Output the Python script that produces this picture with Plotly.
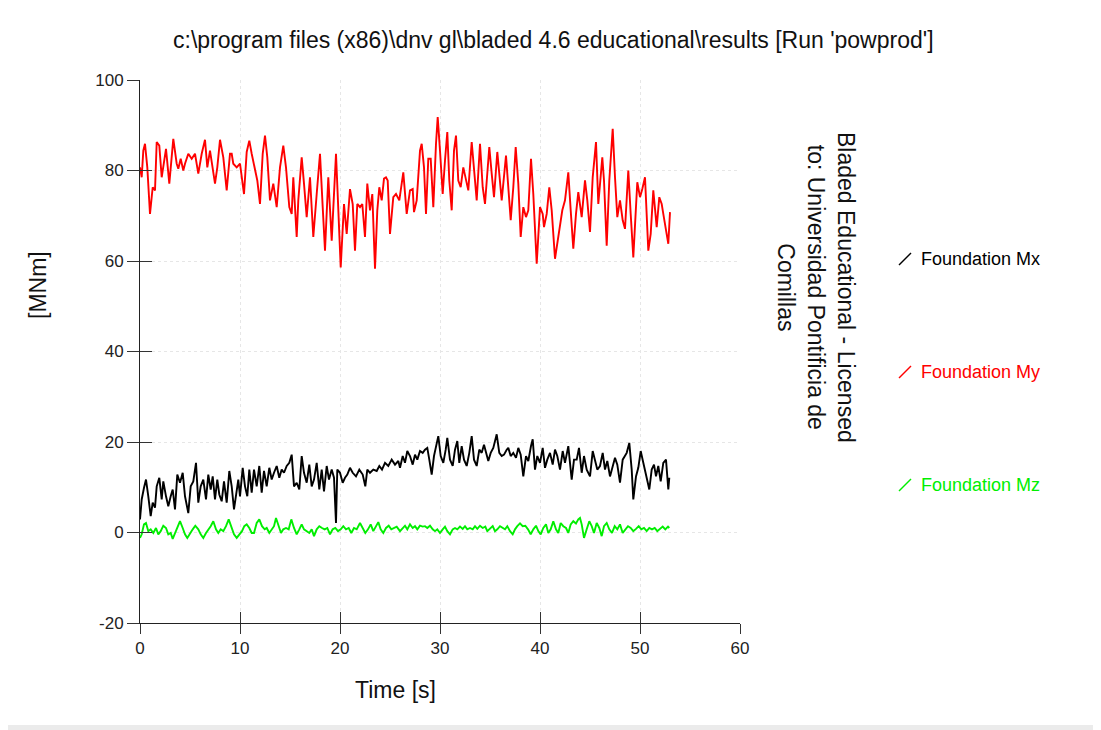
import plotly.graph_objects as go

# ---------------- data ----------------
t_my = [0, 0.17, 0.33, 0.5, 0.73, 1.0, 1.27, 1.5, 1.67, 1.93,
        2.17, 2.33, 2.6, 2.93, 3.33, 3.67, 3.83, 4.07, 4.33, 4.5,
        4.83, 5.17, 5.5, 5.83, 6.17, 6.5, 6.73, 7.0, 7.27, 7.5,
        7.73, 8.0, 8.33, 8.67, 9.0, 9.17, 9.33, 9.67, 10.0, 10.17,
        10.4, 10.67, 10.93, 11.17, 11.5, 11.73, 12.0, 12.27, 12.5, 12.73,
        13.0, 13.33, 13.67, 14.0, 14.33, 14.6, 14.93, 15.17, 15.33, 15.67,
        15.83, 16.17, 16.4, 16.67, 17.0, 17.33, 17.67, 18.0, 18.27, 18.5,
        18.83, 19.17, 19.6, 19.83, 20.07, 20.4, 20.67, 21.0, 21.27, 21.5,
        21.73, 22.0, 22.23, 22.5, 22.73, 23.0, 23.23, 23.5, 23.73, 23.93,
        24.17, 24.4, 24.6, 24.77, 25.0, 25.33, 25.6, 25.93, 26.33, 26.67,
        27.0, 27.27, 27.4, 27.67, 28.0, 28.17, 28.4, 28.6, 28.83, 29.07,
        29.33, 29.6, 29.77, 30.0, 30.27, 30.5, 30.73, 30.93, 31.17, 31.4,
        31.6, 31.83, 32.07, 32.33, 32.57, 32.83, 33.17, 33.4, 33.67, 34.0,
        34.27, 34.5, 34.93, 35.17, 35.4, 35.73, 36.0, 36.17, 36.6, 36.83,
        37.07, 37.33, 37.57, 37.83, 38.07, 38.33, 38.6, 38.83, 39.1, 39.33,
        39.67, 40.0, 40.27, 40.4, 40.67, 40.93, 41.17, 41.5, 41.77, 42.0,
        42.23, 42.5, 42.83, 43.07, 43.33, 43.6, 43.83, 44.17, 44.5, 44.73,
        45.0, 45.27, 45.6, 45.83, 46.0, 46.23, 46.4, 46.67, 46.93, 47.27,
        47.5, 47.73, 48.0, 48.27, 48.5, 48.83, 49.07, 49.33, 49.73, 50.0,
        50.23, 50.5, 50.83, 51.07, 51.33, 51.67, 51.93, 52.17, 52.33, 52.6,
        52.83, 53.0]
my = [80.7, 78.5, 84.4, 85.9, 80.7, 70.4, 76.3, 75.6, 86.3, 85.5,
      78.5, 80.7, 84.8, 77.1, 87.0, 81.5, 80.4, 82.6, 80.0, 81.5,
      83.7, 82.6, 83.7, 79.3, 83.7, 86.8, 80.7, 84.4, 80.7, 77.1,
      80.7, 86.8, 82.9, 75.6, 83.7, 83.7, 81.5, 80.7, 81.5, 78.9,
      74.8, 84.1, 86.6, 83.7, 80.0, 77.8, 72.6, 83.7, 87.7, 82.9,
      73.4, 77.1, 71.9, 80.7, 85.5, 80.7, 71.9, 70.4, 78.5, 65.3,
      73.4, 82.9, 77.1, 69.7, 78.5, 65.3, 74.8, 83.7, 71.9, 62.3,
      78.5, 64.5, 83.7, 72.6, 58.6, 72.6, 66.0, 75.9, 72.6, 62.3,
      72.6, 71.9, 72.6, 65.3, 77.1, 71.2, 74.8, 58.3, 71.2, 76.3,
      73.4, 78.2, 78.5, 77.8, 66.0, 74.1, 74.8, 73.4, 79.6, 70.4,
      75.6, 75.9, 70.8, 73.4, 84.4, 85.9, 80.7, 70.4, 82.6, 82.6,
      71.9, 85.9, 91.8, 84.4, 74.8, 82.2, 88.5, 77.8, 71.2, 84.4,
      87.7, 77.8, 76.3, 80.7, 78.5, 75.6, 86.3, 80.7, 73.4, 85.9,
      76.3, 72.6, 85.2, 79.3, 74.1, 84.1, 76.3, 73.4, 83.3, 77.1,
      69.0, 76.3, 85.2, 77.1, 65.3, 71.9, 69.7, 71.2, 82.6, 74.8,
      59.4, 71.9, 70.4, 67.5, 70.4, 76.3, 71.2, 60.5, 64.5, 67.8,
      71.2, 73.4, 79.6, 71.2, 62.7, 70.4, 75.2, 69.7, 77.8, 73.4,
      66.4, 78.5, 86.3, 72.6, 76.3, 82.9, 77.8, 63.4, 77.8, 89.2,
      78.5, 69.7, 73.4, 69.0, 67.1, 80.0, 70.4, 60.8, 77.4, 74.1,
      75.9, 78.5, 62.3, 66.0, 75.6, 67.5, 74.1, 72.6, 70.4, 66.7,
      63.8, 70.8]

t_mx = [0, 0.17, 0.4, 0.6, 0.83, 1.07, 1.27, 1.5, 1.67, 1.93,
        2.17, 2.33, 2.6, 2.83, 3.07, 3.27, 3.5, 3.73, 4.0, 4.27,
        4.5, 4.67, 4.83, 5.07, 5.33, 5.6, 5.83, 6.07, 6.33, 6.6,
        6.83, 7.07, 7.27, 7.5, 7.73, 7.93, 8.17, 8.4, 8.67, 8.93,
        9.17, 9.4, 9.6, 9.83, 10.0, 10.27, 10.5, 10.73, 10.93, 11.17,
        11.4, 11.67, 11.93, 12.17, 12.4, 12.67, 12.93, 13.17, 13.4, 13.67,
        13.93, 14.17, 14.4, 14.67, 14.93, 15.17, 15.4, 15.67, 15.93, 16.17,
        16.4, 16.67, 16.93, 17.17, 17.4, 17.67, 17.93, 18.17, 18.4, 18.67,
        18.9, 19.17, 19.4, 19.6, 19.73, 20.0, 20.27, 20.5, 20.73, 21.0,
        21.27, 21.6, 21.93, 22.27, 22.53, 22.73, 23.0, 23.33, 23.67, 23.93,
        24.2, 24.5, 24.83, 25.17, 25.5, 25.83, 26.0, 26.27, 26.5, 26.73,
        27.0, 27.27, 27.5, 27.73, 28.0, 28.27, 28.5, 28.73, 28.93, 29.17,
        29.4, 29.67, 29.83, 30.07, 30.33, 30.57, 30.73, 31.0, 31.27, 31.5,
        31.73, 31.93, 32.17, 32.4, 32.67, 32.93, 33.17, 33.4, 33.67, 33.93,
        34.17, 34.4, 34.6, 34.83, 35.07, 35.33, 35.67, 35.93, 36.17, 36.4,
        36.67, 36.83, 37.07, 37.33, 37.6, 37.83, 38.07, 38.33, 38.6, 38.83,
        39.1, 39.27, 39.5, 39.73, 40.0, 40.27, 40.5, 40.73, 41.0, 41.27,
        41.5, 41.73, 42.0, 42.27, 42.5, 42.83, 43.17, 43.4, 43.67, 43.9,
        44.17, 44.4, 44.67, 45.0, 45.27, 45.5, 45.73, 46.0, 46.27, 46.5,
        46.73, 47.0, 47.27, 47.5, 47.73, 48.0, 48.27, 48.5, 48.67, 48.93,
        49.17, 49.33, 49.6, 49.83, 50.07, 50.33, 50.6, 50.93, 51.17, 51.4,
        51.6, 51.83, 52.07, 52.33, 52.6, 52.83, 52.93]
mx = [2.9, 7.3, 9.9, 11.7, 8.0, 3.6, 6.6, 5.5, 10.2, 12.1,
      7.3, 11.3, 8.0, 5.8, 8.0, 9.5, 5.1, 12.8, 11.0, 13.2,
      8.0, 5.8, 4.3, 10.2, 11.3, 15.4, 6.6, 10.2, 11.7, 7.3,
      12.8, 9.5, 12.4, 7.3, 11.7, 8.4, 6.9, 11.3, 6.6, 13.6,
      10.2, 5.1, 8.8, 11.7, 8.0, 14.3, 10.2, 8.0, 13.9, 8.8,
      13.9, 10.2, 14.7, 8.8, 13.6, 10.2, 14.3, 11.7, 13.2, 14.7,
      12.1, 13.9, 13.2, 14.7, 15.4, 17.2, 10.2, 11.0, 9.5, 16.9,
      13.2, 11.0, 15.0, 10.2, 11.7, 15.4, 9.5, 13.9, 9.1, 14.7,
      11.7, 13.9, 12.1, 2.1, 13.9, 13.2, 11.0, 12.1, 12.8, 14.3,
      13.2, 12.4, 13.9, 12.8, 10.2, 13.9, 13.2, 13.9, 13.6, 14.7,
      13.9, 15.4, 14.7, 16.1, 15.0, 15.8, 14.3, 16.9, 15.4, 18.0,
      16.9, 15.0, 17.2, 16.1, 18.0, 17.6, 18.3, 18.7, 16.1, 12.8,
      16.9, 19.4, 21.3, 16.9, 15.4, 18.3, 20.9, 16.1, 14.7, 18.3,
      20.2, 15.4, 19.1, 16.1, 14.7, 17.6, 21.3, 16.1, 14.7, 18.3,
      17.6, 19.4, 17.6, 15.8, 17.6, 18.7, 21.7, 17.6, 16.9, 17.2,
      18.3, 18.7, 16.9, 17.6, 16.5, 18.7, 17.2, 12.4, 16.9, 15.8,
      19.1, 20.6, 13.9, 16.9, 15.4, 18.7, 14.3, 16.1, 17.6, 15.0,
      18.3, 16.9, 13.9, 18.0, 15.4, 19.1, 11.7, 16.1, 16.1, 18.7,
      13.2, 16.9, 13.9, 12.4, 18.0, 15.8, 13.9, 14.7, 17.6, 13.9,
      15.8, 12.4, 14.7, 16.5, 15.0, 11.0, 16.1, 16.9, 17.6, 19.8,
      13.9, 7.3, 12.4, 14.3, 18.0, 15.4, 12.4, 9.5, 13.9, 15.0,
      12.4, 14.7, 11.3, 15.4, 16.1, 9.5, 12.1]

t_mz = [0, 0.17, 0.4, 0.6, 0.83, 1.07, 1.33, 1.6, 1.83, 2.07,
        2.33, 2.6, 2.83, 3.07, 3.27, 3.5, 3.73, 4.0, 4.27, 4.5,
        4.73, 5.0, 5.27, 5.53, 5.83, 6.07, 6.33, 6.6, 6.87, 7.07,
        7.33, 7.6, 7.83, 8.07, 8.33, 8.6, 8.87, 9.13, 9.4, 9.67,
        9.93, 10.2, 10.43, 10.67, 10.93, 11.17, 11.4, 11.67, 11.93, 12.2,
        12.47, 12.67, 12.93, 13.17, 13.4, 13.6, 13.87, 14.1, 14.33, 14.6,
        14.87, 15.13, 15.4, 15.67, 15.93, 16.17, 16.4, 16.67, 16.93, 17.17,
        17.4, 17.67, 17.93, 18.2, 18.47, 18.73, 19.0, 19.27, 19.53, 19.8,
        20.07, 20.33, 20.6, 20.87, 21.13, 21.4, 21.67, 22.0, 22.27, 22.53,
        22.8, 23.07, 23.33, 23.6, 23.83, 24.07, 24.33, 24.6, 24.87, 25.13,
        25.4, 25.67, 26.0, 26.27, 26.5, 26.73, 27.0, 27.27, 27.5, 27.73,
        28.0, 28.27, 28.5, 28.73, 29.0, 29.27, 29.5, 29.73, 30.0, 30.27,
        30.5, 30.73, 31.0, 31.27, 31.5, 31.73, 32.0, 32.27, 32.5, 32.73,
        33.0, 33.27, 33.5, 33.73, 34.0, 34.27, 34.53, 34.73, 35.0, 35.27,
        35.5, 35.73, 36.0, 36.27, 36.5, 36.73, 37.0, 37.27, 37.5, 37.73,
        38.0, 38.27, 38.53, 38.8, 39.07, 39.33, 39.6, 39.83, 40.07, 40.33,
        40.6, 40.83, 41.07, 41.33, 41.6, 41.83, 42.07, 42.33, 42.6, 42.83,
        43.07, 43.33, 43.6, 43.83, 44.0, 44.17, 44.4, 44.67, 44.93, 45.17,
        45.4, 45.67, 45.93, 46.17, 46.4, 46.67, 46.93, 47.2, 47.47, 47.73,
        48.0, 48.27, 48.53, 48.8, 49.07, 49.33, 49.6, 49.87, 50.13, 50.4,
        50.67, 50.93, 51.2, 51.47, 51.73, 52.0, 52.27, 52.53, 52.8, 52.93]
mz = [-1.2, -0.4, 1.8, 2.1, 0.3, 0.7, -0.1, 1.0, -0.4, 0.3,
      1.5, 1.0, -0.4, -0.1, -1.4, -0.1, 1.4, 2.5, 1.0, -0.4,
      -1.2, -0.1, 0.7, 1.5, 0.7, -0.4, -1.2, -0.1, 0.7, 1.4,
      2.5, 0.7, -0.1, 0.7, 0.3, 1.4, 2.9, 1.4, -0.4, -1.2,
      -0.4, 0.3, 1.4, 1.8, 1.0, -0.1, -0.1, 2.1, 2.9, 1.4,
      0.7, 1.0, -0.1, 0.7, 1.4, 3.2, 1.4, -0.1, 0.7, 1.0,
      0.7, 2.9, 1.0, -0.4, 0.7, 1.8, 0.7, 0.3, -0.1, 0.7,
      -0.8, 0.7, 1.4, 1.0, 0.7, 1.0, -0.4, 0.7, 1.0, 0.3,
      0.7, 1.4, 0.7, 1.0, -0.1, 1.0, 0.7, 2.1, 1.0, -0.1,
      0.7, 1.8, 0.3, 1.4, 2.3, 0.7, -0.1, 1.0, 1.5, 0.7,
      1.0, 1.3, 0.3, 1.0, 1.5, 0.7, 1.8, 1.0, 1.4, 0.7,
      1.5, 1.3, 1.4, 1.0, 1.5, 0.7, 0.3, 0.7, -0.1, 0.7,
      1.3, 0.3, -0.4, 0.7, 1.0, 0.7, 1.3, 0.8, 1.4, 0.7,
      1.0, 0.7, 1.4, 0.8, 1.5, 1.0, 1.3, 0.3, 0.8, 1.4,
      0.3, 0.7, 1.4, 1.0, 0.7, 1.4, 0.3, -0.4, 0.7, 1.4,
      2.0, 1.4, 1.5, 0.7, -0.4, 0.7, 1.5, 0.3, -0.4, 1.0,
      1.8, -0.1, 0.7, 2.5, 0.7, -0.1, 2.1, 1.4, 1.0, -0.1,
      1.8, 2.5, 2.0, 2.9, 3.2, 1.8, -1.2, 0.7, 2.5, 1.4,
      -0.1, 2.1, 1.0, -0.8, 1.4, 2.1, 0.7, -0.1, 1.4, 0.7,
      1.8, -0.1, 0.7, 1.4, 1.0, 0.3, 0.8, 1.4, 0.7, 1.0,
      0.3, 1.0, 0.7, 1.0, 0.3, 0.8, 1.3, 0.7, 1.3, 1.0]

assert len(t_my) == len(my) and len(t_mx) == len(mx) and len(t_mz) == len(mz)

series_names = ["Foundation Mx", "Foundation My", "Foundation Mz"]
series_colors = ["#000000", "#ff0000", "#00ee00"]
x_ticks = [0, 10, 20, 30, 40, 50, 60]
y_ticks = [-20, 0, 20, 40, 60, 80, 100]
y_tick_labels = ["-20", "0", "20", "40", "60", "80", "100"]

TITLE = "c:\\program files (x86)\\dnv gl\\bladed 4.6 educational\\results [Run 'powprod']"
LICENSE = "Bladed Educational - Licensed<br>to: Universidad Pontificia de<br>Comillas"

FONT = "Liberation Sans, Arial, sans-serif"

# the page adds an 8 px body margin, so the figure is drawn 8 px smaller
OFF = 8
W, H = 1101 - OFF, 730 - OFF
ML, MT = 140 - OFF, 80 - OFF
PW, PH = 600, 543
MR, MB = W - ML - PW, H - MT - PH


def px(xp):
    """page x pixel -> paper x"""
    return (xp - 140) / PW


def py(yp):
    """page y pixel -> paper y"""
    return (623 - yp) / PH


fig = go.Figure()
for (tt, vv), name, col in zip([(t_mx, mx), (t_my, my), (t_mz, mz)], series_names, series_colors):
    fig.add_trace(go.Scatter(x=tt, y=vv, mode="lines", name=name,
                             line=dict(color=col, width=1.9), showlegend=False))

# dummy trace to activate overlay axes used for the inward half of the crossing ticks
fig.add_trace(go.Scatter(x=[None], y=[None], xaxis="x2", yaxis="y2",
                         showlegend=False, hoverinfo="skip"))

common_axis = dict(linecolor="#222", linewidth=1, ticks="outside", tickcolor="#333",
                   tickwidth=1, showline=True, zeroline=False,
                   showgrid=True, gridcolor="#e6e6e6", griddash="dot", gridwidth=1,
                   tickfont=dict(family=FONT, size=17, color="#222"))

fig.update_layout(
    width=W, height=H,
    paper_bgcolor="white", plot_bgcolor="white",
    margin=dict(l=ML, r=MR, t=MT, b=MB, pad=0),
    font=dict(family=FONT, color="#111"),
    xaxis=dict(range=[0, 60], tickvals=x_ticks, ticklen=10, **common_axis),
    yaxis=dict(range=[-20, 100], tickvals=y_ticks, ticktext=y_tick_labels,
               ticklen=12, **common_axis),
    xaxis2=dict(range=[0, 60], tickvals=x_ticks, overlaying="x", side="bottom",
                ticks="inside", ticklen=11, tickcolor="#333", showticklabels=False,
                showgrid=False, zeroline=False, showline=False),
    yaxis2=dict(range=[-20, 100], tickvals=y_ticks, overlaying="y", side="left",
                ticks="inside", ticklen=12, tickcolor="#333", showticklabels=False,
                showgrid=False, zeroline=False, showline=False),
    showlegend=False,
)

# zero reference line (dotted)
fig.add_shape(type="line", xref="paper", x0=0, x1=1, yref="y", y0=0, y1=0,
              line=dict(color="#a0a0a0", width=1, dash="dot"), layer="below")

annotations = [
    dict(text=TITLE, xref="paper", yref="paper", x=px(553), y=py(40),
         showarrow=False, xanchor="center", yanchor="middle",
         font=dict(family=FONT, size=23, color="#111")),
    dict(text="[MNm]", xref="paper", yref="paper", x=px(38), y=py(285),
         showarrow=False, textangle=-90, xanchor="center", yanchor="middle",
         font=dict(family=FONT, size=23, color="#111")),
    dict(text="Time [s]", xref="paper", yref="paper", x=px(395), y=py(690),
         showarrow=False, xanchor="center", yanchor="middle",
         font=dict(family=FONT, size=23, color="#111")),
    dict(text=LICENSE, xref="paper", yref="paper", x=px(816), y=py(287),
         showarrow=False, textangle=90, xanchor="center", yanchor="middle",
         align="center", font=dict(family=FONT, size=23, color="#111")),
]

legend_y_px = [259, 372, 485]
for name, col, ypx in zip(series_names, series_colors, legend_y_px):
    annotations.append(dict(text=name, xref="paper", yref="paper",
                            x=px(919), y=py(ypx), showarrow=False,
                            xanchor="left", yanchor="middle",
                            font=dict(family=FONT, size=18, color=col)))
    fig.add_shape(type="line", xref="paper", yref="paper",
                  x0=px(899), x1=px(911),
                  y0=py(ypx + 6), y1=py(ypx - 6),
                  line=dict(color=col, width=1.4))

fig.update_layout(annotations=annotations)

# window border strip at bottom
fig.add_shape(type="rect", xref="paper", yref="paper",
              x0=px(0), x1=px(1101), y0=py(731), y1=py(725),
              fillcolor="#ebebeb", line=dict(width=0), layer="below")

fig.write_html("out.html")
